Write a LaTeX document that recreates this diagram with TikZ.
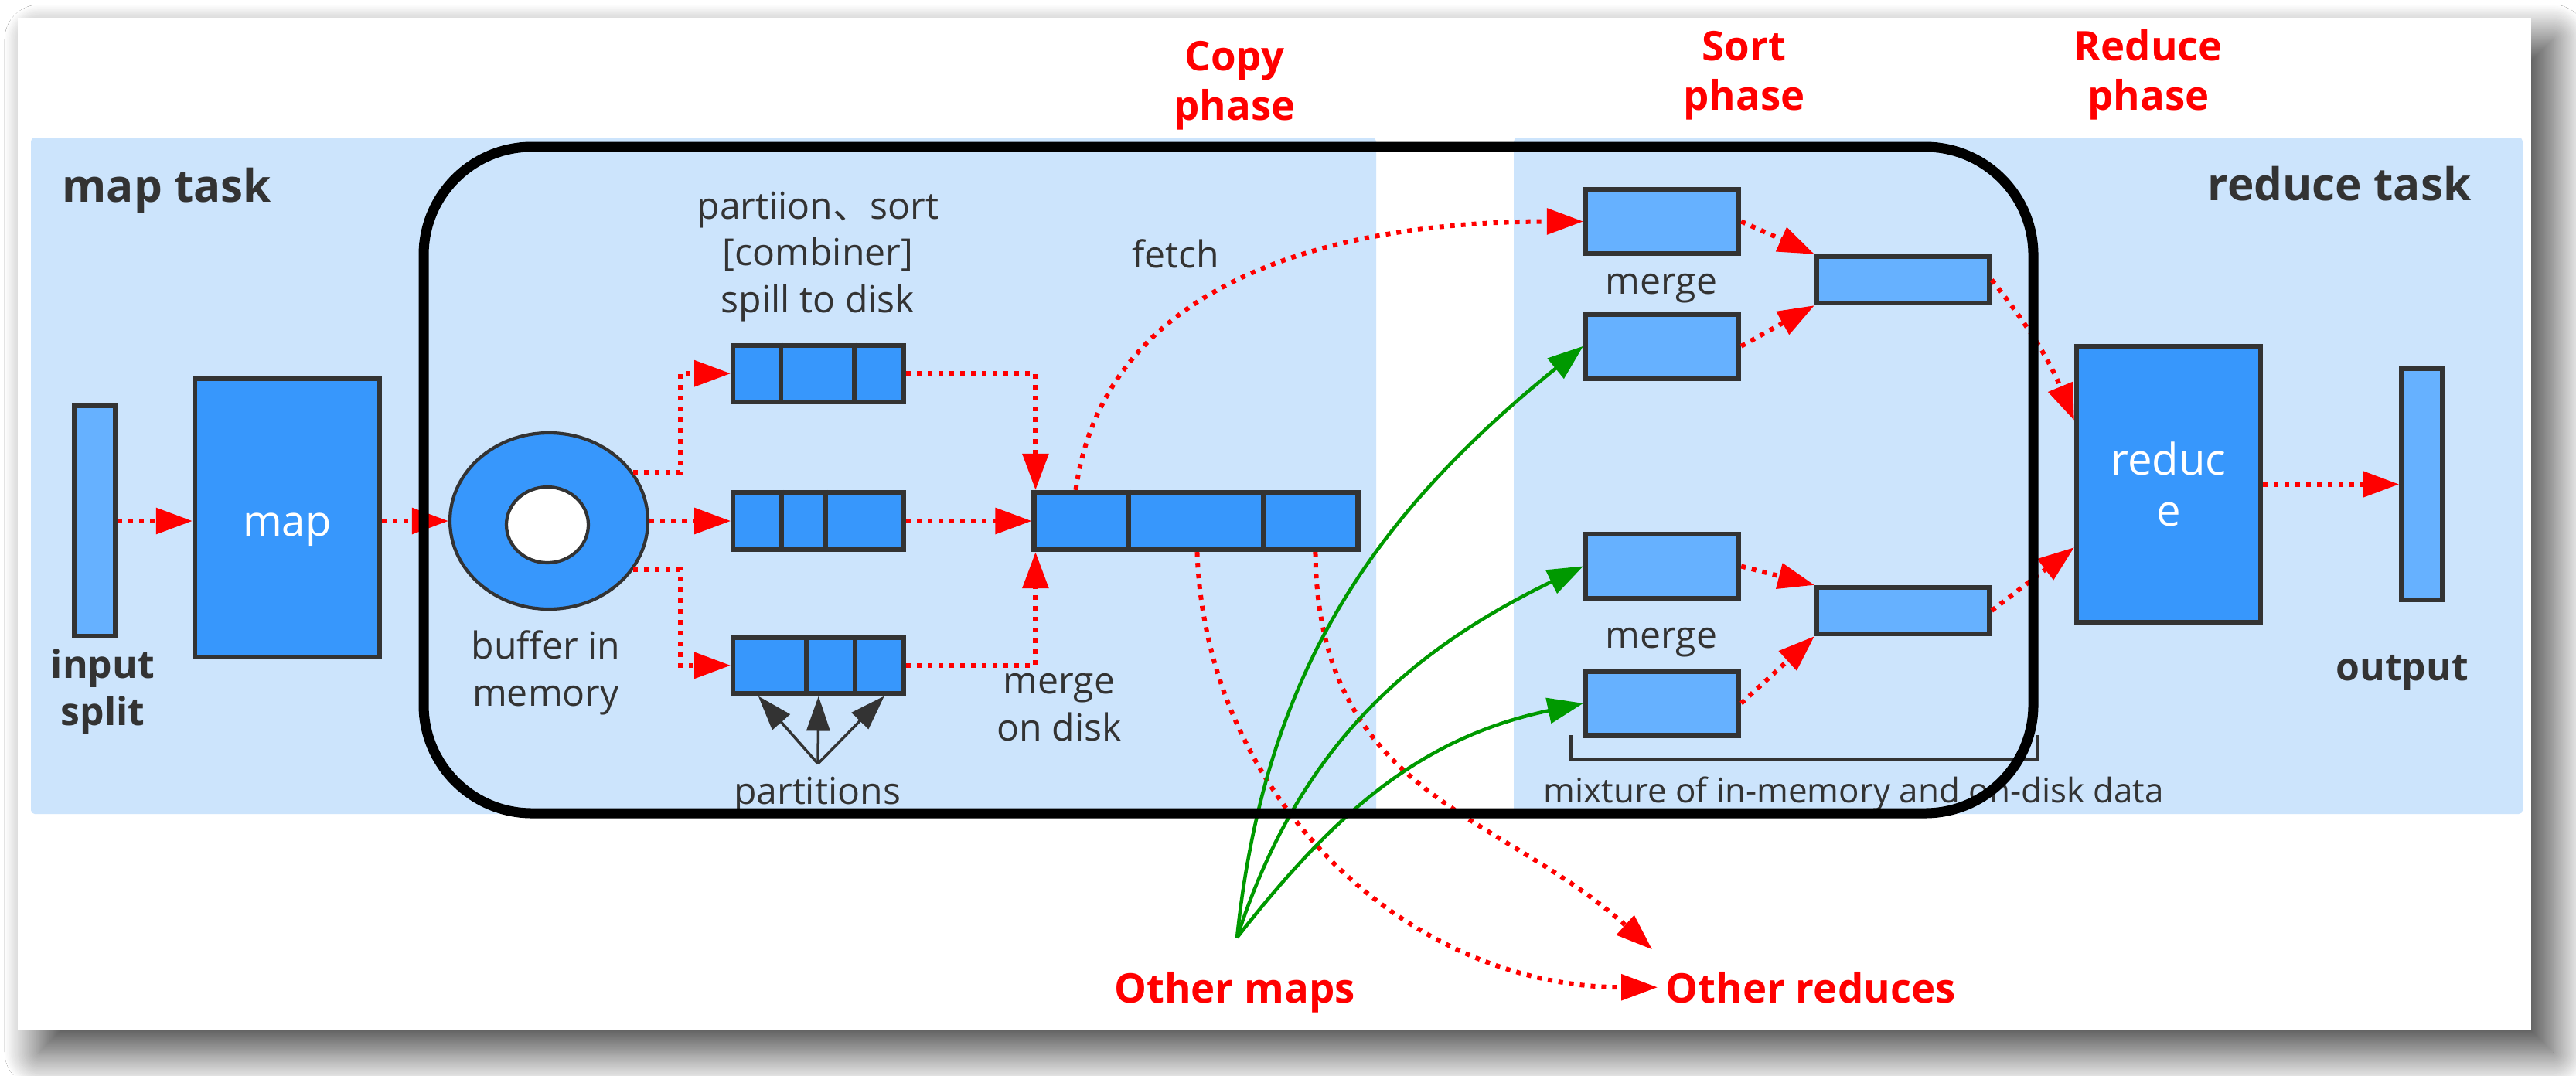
\documentclass[tikz,border=0pt]{standalone}
\usepackage{fontspec}
\setmainfont{Open Sans}
\newfontfamily\cjkfont{Noto Sans CJK SC}
\usepackage{tikz}
\usepackage{xcolor}
\usetikzlibrary{shapes.geometric, arrows.meta, positioning, shadows, shadows.blur}

\definecolor{panelblue}{RGB}{204,228,252}
\definecolor{boxblue}{RGB}{55,151,252}
\definecolor{lightblue}{RGB}{102,177,255}
\definecolor{linegray}{RGB}{51,51,51}
\definecolor{mapgreen}{RGB}{0,153,0}

\tikzstyle{bluebox} = [rectangle, draw=linegray, line width=1.8pt, fill=boxblue, inner sep=0pt]
\tikzstyle{lightbox} = [rectangle, draw=linegray, line width=1.8pt, fill=lightblue, inner sep=0pt]
\tikzstyle{divider} = [draw=linegray, line width=1.8pt]
\tikzstyle{redarrow} = [red, line width=0.06cm, dash pattern=on 0.06cm off 0.08cm, -{Triangle[length=0.47cm, width=0.33cm]}]
\tikzstyle{greenarrow} = [mapgreen, line width=0.045cm, -{Triangle[length=0.46cm, width=0.33cm]}]
\tikzstyle{partarrow} = [linegray, line width=0.035cm, -{Triangle[length=0.45cm, width=0.3cm]}]
\tikzstyle{txt} = [text=linegray, font=\fontsize{13.7}{17.2}\selectfont, align=center, inner sep=0pt]
\tikzstyle{boldtxt} = [text=linegray, font=\bfseries\fontsize{14.2}{17.1}\selectfont, align=center, inner sep=0pt]
\tikzstyle{tasktxt} = [text=linegray, font=\bfseries\fontsize{16.6}{19}\selectfont, inner sep=0pt]
\tikzstyle{phasetxt} = [text=red, font=\bfseries\fontsize{15}{18.1}\selectfont, align=center, inner sep=0pt]

\begin{document}
\begin{tikzpicture}
\useasboundingbox (0,0) rectangle (33.32,-13.91);

% page and card
\fill [white] (0,0) rectangle (33.32,-13.91);
\node (card) [fill=white, inner sep=0pt, minimum width=32.51cm, minimum height=13.10cm, blur shadow={shadow xshift=0.28cm, shadow yshift=-0.28cm, shadow blur radius=0.45cm, shadow blur steps=30, shadow opacity=75}] at (16.485,-6.78) {};

% task panels
\fill [panelblue, rounded corners=0.05cm] (0.40,-1.78) rectangle (17.80,-10.53);
\fill [panelblue, rounded corners=0.05cm] (19.58,-1.78) rectangle (32.63,-10.53);

% map side
\node (input) [lightbox, minimum width=0.53cm, minimum height=2.98cm] at (1.225,-6.74) {};
\node (map) [bluebox, minimum width=2.39cm, minimum height=3.60cm, text=white, font=\fontsize{15.5}{18}\selectfont, text height=0.46cm, text depth=0pt] at (3.715,-6.70) {map};
\node (buffer) [ellipse, draw=linegray, line width=1.2pt, fill=boxblue, minimum width=2.56cm, minimum height=2.28cm] at (7.10,-6.74) {};
\node (hole) [ellipse, draw=linegray, line width=1.2pt, fill=white, minimum width=1.06cm, minimum height=0.98cm] at (7.08,-6.79) {};

\node (spill2) [bluebox, minimum width=2.21cm, minimum height=0.74cm, right=1.05cm of buffer] {};
\node (spill1) [bluebox, minimum width=2.21cm, minimum height=0.73cm, above=1.11cm of spill2] {};
\node (spill3) [bluebox, minimum width=2.21cm, minimum height=0.73cm, below=1.07cm of spill2] {};
\node (merged) [bluebox, minimum width=4.19cm, minimum height=0.74cm, right=1.62cm of spill2] {};

\foreach \bx/\dx in {spill1/0.65, spill1/1.60, spill2/0.66, spill2/1.23, spill3/0.98, spill3/1.61, merged/1.25, merged/3.00}
  \draw [divider] ([xshift=\dx cm]\bx.north west) -- ([xshift=\dx cm]\bx.south west);

% reduce side
\node (sort1) [lightbox, minimum width=1.98cm, minimum height=0.83cm] at (21.50,-2.865) {};
\node (sort2) [lightbox, minimum width=1.98cm, minimum height=0.83cm, below=0.72cm of sort1] {};
\node (sort3) [lightbox, minimum width=1.98cm, minimum height=0.83cm] at (21.50,-7.325) {};
\node (sort4) [lightbox, minimum width=1.98cm, minimum height=0.83cm, below=0.88cm of sort3] {};
\node (upmerge) [lightbox, minimum width=2.23cm, minimum height=0.60cm] at (24.615,-3.62) {};
\node (lowmerge) [lightbox, minimum width=2.23cm, minimum height=0.60cm] at (24.615,-7.90) {};
\node (reduce) [bluebox, minimum width=2.38cm, minimum height=3.57cm, text=white, align=center, font=\fontsize{16}{18.8}\selectfont] at (28.05,-6.265) {reduc\\e};
\node (output) [lightbox, minimum width=0.53cm, minimum height=2.99cm, right=1.76cm of reduce] {};

% labels (base is the last line)
\node (maptask) [tasktxt, anchor=base west] at (0.80,-2.61) {map task};
\node (reducetask) [tasktxt, anchor=base east] at (31.97,-2.59) {reduce task};
\node (inputlbl) [boldtxt, anchor=base] at (1.33,-9.38) {input\\split};
\node (bufferlbl) [txt, anchor=base] at (7.06,-9.13) {buffer in\\memory};
\node (spilllbl) [txt, anchor=base] at (10.58,-4.04) {partiion{\cjkfont 、}sort\\{[combiner]}\\spill to disk};
\node (diskmerge) [txt, anchor=base] at (13.70,-9.58) {merge\\on disk};
\node (partlbl) [txt, anchor=base] at (10.57,-10.40) {partitions};
\node (fetchlbl) [txt, anchor=base] at (15.21,-3.46) {fetch};
\node (uplbl) [txt, anchor=base] at (21.49,-3.80) {merge};
\node (lowlbl) [txt, anchor=base] at (21.49,-8.38) {merge};
\node (mixlbl) [txt, font=\fontsize{12.5}{15}\selectfont, anchor=base west] at (19.96,-10.38) {mixture of in-memory and on-disk data};
\node (outputlbl) [boldtxt, anchor=base] at (31.07,-8.80) {output};
\node (copylbl) [phasetxt, anchor=base] at (15.97,-1.55) {Copy\\phase};
\node (sortlbl) [phasetxt, anchor=base] at (22.56,-1.42) {Sort\\phase};
\node (reducelbl) [phasetxt, anchor=base] at (27.79,-1.42) {Reduce\\phase};
\node (othermaps) [phasetxt, anchor=base] at (15.97,-12.97) {Other maps};
\node (otherred) [phasetxt, anchor=base west, inner sep=0.1cm] at (21.44,-12.97) {Other reduces};

% map side arrows
\draw [redarrow] (input.east) -- (input.east -| map.west);
\draw [redarrow] (input.east -| map.east) -- (buffer.west);
\draw [redarrow] (buffer.30) -| ([xshift=-0.65cm]spill1.west) -- (spill1.west);
\draw [redarrow] (buffer.east) -- (spill2.west);
\draw [redarrow] (buffer.-30) -| ([xshift=-0.65cm]spill3.west) -- (spill3.west);
\draw [redarrow] (spill1.east) -| ([xshift=0.05cm]merged.north west);
\draw [redarrow] (spill2.east) -- (merged.west);
\draw [redarrow] (spill3.east) -| ([xshift=0.05cm]merged.south west);

\coordinate (pfork) at (10.58,-9.88);
\foreach \dx in {-0.78, 0, 0.85}
  \draw [partarrow] (pfork) -- ([xshift=\dx cm]spill3.south);

% copy to reducers
\draw [redarrow] ([xshift=0.57cm]merged.north west) to[out=82, in=180] (sort1.west);
\draw [redarrow] ([xshift=2.14cm]merged.south west) to[out=-88, in=180] (otherred.west);
\draw [redarrow] ([xshift=3.67cm]merged.south west) .. controls +(0.03,-3.16) and +(-1.97,1.78) .. ([shift={(-0.07,0.49)}]otherred.west);

\coordinate (mapsrc) at (16.00,-12.13);
\draw [greenarrow] (mapsrc) to[out=84, in=-141] (sort2.west);
\draw [greenarrow] (mapsrc) to[out=72, in=-154] (sort3.west);
\draw [greenarrow] (mapsrc) to[out=52, in=-168] (sort4.west);

% sort and reduce arrows
\draw [redarrow] (sort1.east) -- (upmerge.north west);
\draw [redarrow] (sort2.east) -- (upmerge.south west);
\draw [redarrow] (sort3.east) -- (lowmerge.north west);
\draw [redarrow] (sort4.east) -- (lowmerge.south west);
\draw [redarrow] (upmerge.east) to[bend left=8] ([yshift=-0.99cm]reduce.north west);
\draw [redarrow] (lowmerge.east) -- ([yshift=1.0cm]reduce.south west);
\draw [redarrow] (reduce.east) -- (output.west);

\draw [linegray, line width=0.04cm] (20.32,-9.51) -- (20.32,-9.83) -- (26.35,-9.83) -- (26.35,-9.51);

% shuffle frame
\node (shuffle) [draw=black, line width=0.13cm, rounded corners=1.4cm, minimum width=20.82cm, minimum height=8.62cm, inner sep=0pt] at (15.89,-6.21) {};

\end{tikzpicture}
\end{document}
